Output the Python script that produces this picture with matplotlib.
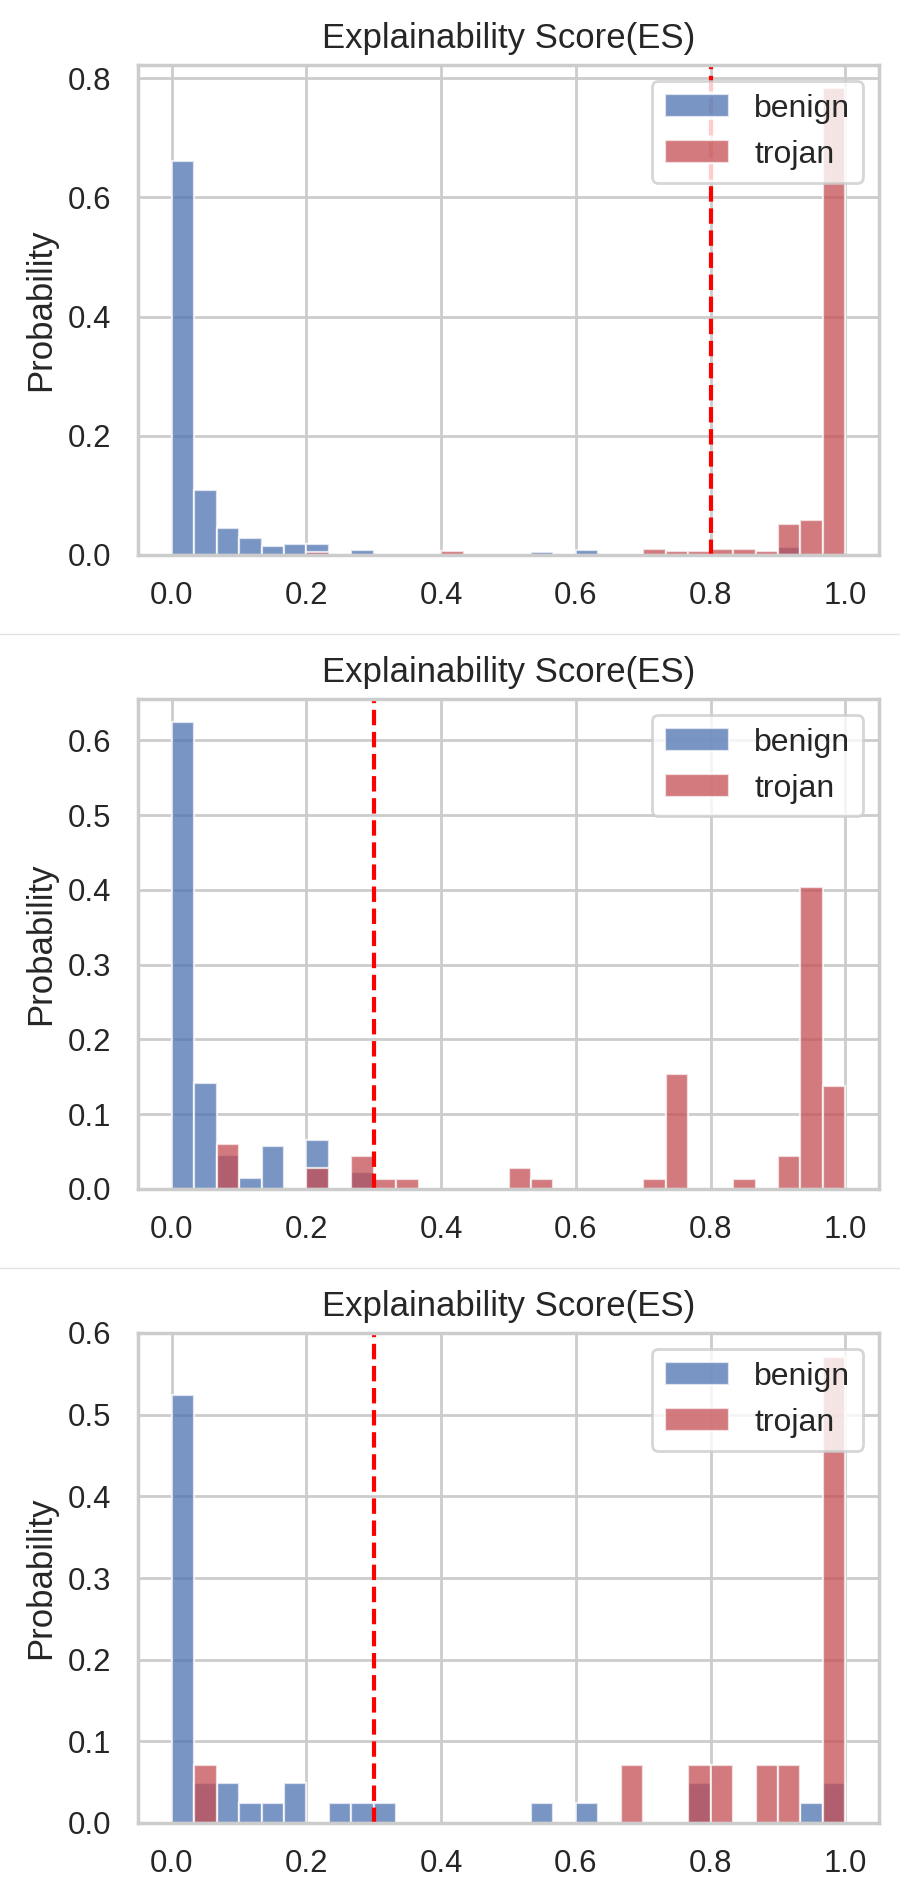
import numpy as np
import matplotlib
matplotlib.use("Agg")
import matplotlib.pyplot as plt
from matplotlib.lines import Line2D
import seaborn as sns

sns.set_theme(style="whitegrid")
plt.rcParams['font.family'] = ['Liberation Sans', 'DejaVu Sans']

# ---------------- data (probability per bin, 30 equal bins on [0, 1]) ----------------
n_bins = 30
title_text = "Explainability Score(ES)"
series_labels = ["benign", "trojan"]

benign_1 = [0.661, 0.109, 0.045, 0.028, 0.015, 0.0185, 0.0185, 0, 0.008, 0,
            0, 0, 0, 0, 0, 0, 0.005, 0, 0.008, 0,
            0, 0, 0, 0, 0, 0, 0, 0.013, 0, 0]
trojan_1 = [0, 0, 0, 0, 0, 0, 0.0056, 0, 0, 0,
            0, 0, 0.0067, 0, 0, 0, 0, 0, 0, 0,
            0, 0.0106, 0.0067, 0.0067, 0.0106, 0.0106, 0.0067, 0.052, 0.058, 0.783]
threshold_1 = 0.8

benign_2 = [0.624, 0.142, 0.045, 0.0148, 0.057, 0, 0.066, 0, 0.023, 0,
            0, 0, 0, 0, 0, 0, 0, 0, 0, 0,
            0, 0, 0, 0, 0, 0, 0, 0, 0, 0]
trojan_2 = [0, 0, 0.060, 0, 0, 0, 0.0286, 0, 0.0447, 0.0135,
            0.0135, 0, 0, 0, 0, 0.0286, 0.0135, 0, 0, 0,
            0, 0.0135, 0.154, 0, 0, 0.0135, 0, 0.0447, 0.404, 0.138]
threshold_2 = 0.3

benign_3 = [0.524, 0.049, 0.049, 0.024, 0.024, 0.049, 0, 0.024, 0.024, 0.024,
            0, 0, 0, 0, 0, 0, 0.024, 0, 0.024, 0,
            0, 0, 0, 0.049, 0, 0, 0, 0, 0.024, 0.049]
trojan_3 = [0, 0.0705, 0, 0, 0, 0, 0, 0, 0, 0,
            0, 0, 0, 0, 0, 0, 0, 0, 0, 0,
            0.0705, 0, 0, 0.0705, 0.0705, 0, 0.0705, 0.0705, 0, 0.571]
threshold_3 = 0.3

x_ticks = [0.0, 0.2, 0.4, 0.6, 0.8, 1.0]
y_ticks_1 = [0.0, 0.2, 0.4, 0.6, 0.8]
y_ticks_2 = [0.0, 0.1, 0.2, 0.3, 0.4, 0.5, 0.6]
y_ticks_3 = [0.0, 0.1, 0.2, 0.3, 0.4, 0.5, 0.6]

panels = [
    (benign_1, trojan_1, threshold_1, y_ticks_1),
    (benign_2, trojan_2, threshold_2, y_ticks_2),
    (benign_3, trojan_3, threshold_3, y_ticks_3),
]

colors = ["#4C72B0", "#C44E52"]

# ---------------- figure ----------------
W, H = 900, 1902
DPI = 200
fig = plt.figure(figsize=(W / DPI, H / DPI), dpi=DPI)

panel_h = H / 3
ax_left, ax_right = 138, 879
ax_top_off, ax_bot_off = 65, 555

edges = np.linspace(0, 1, n_bins + 1)
bw = edges[1] - edges[0]

for k, (ben, tro, thr, yt) in enumerate(panels):
    top = ax_top_off + k * panel_h
    bot = ax_bot_off + k * panel_h
    ax = fig.add_axes([ax_left / W, 1 - bot / H, (ax_right - ax_left) / W, (bot - top) / H])
    for vals, col, lab in zip([ben, tro], colors, series_labels):
        vals = np.asarray(vals, dtype=float)
        m = vals > 0
        ax.bar(edges[:-1][m], vals[m], width=bw, align="edge", color=col, alpha=0.75,
               edgecolor="white", linewidth=0.8, label=lab)
    ax.axvline(thr, color="red", linestyle="--", linewidth=1.5)
    ax.set_xlim(-0.05, 1.05)
    ymax = max(max(ben), max(tro)) * 1.05
    ax.set_ylim(0, ymax)
    ax.set_xticks(x_ticks)
    ax.set_yticks(yt)
    ax.tick_params(axis="both", labelsize=11.2)
    ax.set_ylabel("Probability", fontsize=12.5)
    ax.set_title(title_text, fontsize=12.5)
    ax.legend(loc="upper right", fontsize=11.5)

# separators between the panels
for k in (1, 2):
    y = 1 - (k * panel_h) / H
    fig.add_artist(Line2D([0, 1], [y, y], transform=fig.transFigure,
                          color="#e3e3e3", linewidth=0.5))

fig.savefig("out.png", dpi=DPI)
